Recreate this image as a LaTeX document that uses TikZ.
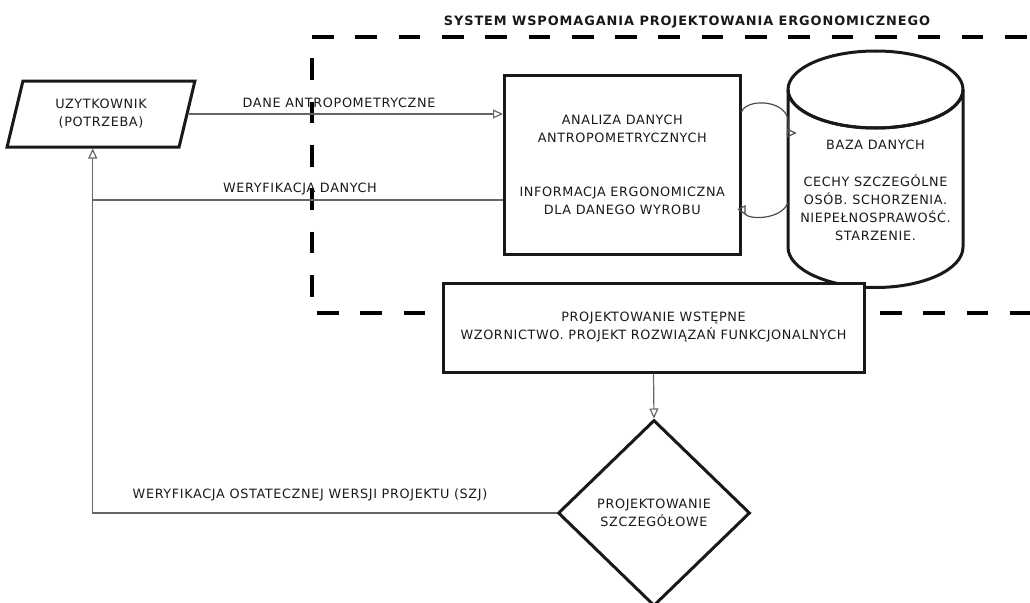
\documentclass[tikz,border=0pt]{standalone}
\usepackage{fontspec}
\setmainfont{DejaVu Sans}
\newfontfamily\dv[LetterSpace=5]{DejaVu Sans}
\newfontfamily\dvt[LetterSpace=7]{DejaVu Sans}
\usetikzlibrary{shapes.geometric,arrows.meta}
\begin{document}
\begin{tikzpicture}[x=1pt,y=-1pt,
  txt/.style={font=\dv\fontsize{12.8}{18}\selectfont, text=black!90, align=center},
  thickbox/.style={txt, draw=black!90, line width=3pt, fill=white, inner sep=0pt},
  conn/.style={draw=black!60, line width=1.2pt},
  openarrow/.style={-{Triangle[open,length=10pt,width=9pt]}},
  lbl/.style={txt, inner sep=0pt, anchor=base},
  bound/.style={draw=black, line width=4pt, dash pattern=on 21.7pt off 21.6pt}
]
\useasboundingbox (0,0) rectangle (1030,602);

% system boundary
\draw[bound] (312,37) -- (1040,37);
\draw[bound] (312,58.3) -- (312,313) -- (1040,313);
\node[lbl, font=\dvt\bfseries\fontsize{12.9}{14}\selectfont] (title) at (687,25.5) {SYSTEM WSPOMAGANIA PROJEKTOWANIA ERGONOMICZNEGO};

% user
\node[thickbox, trapezium, trapezium left angle=72.35, trapezium right angle=107.65,
      trapezium stretches=true, minimum width=188pt, minimum height=66pt,
      fill=white] (user) at (101,114)
      {\fontsize{12.8}{16}\selectfont UZYTKOWNIK\\(POTRZEBA)};

% analysis box
\node[thickbox, minimum width=235.5pt, minimum height=179pt] (box) at (622.25,164.5)
  {ANALIZA DANYCH\\ANTROPOMETRYCZNYCH\\[36pt]INFORMACJA ERGONOMICZNA\\DLA DANEGO WYROBU};

% database cylinder
\node[minimum width=175pt, minimum height=237pt, inner sep=0pt] (db) at (875.5,169.5) {};
\draw[line width=3pt, draw=black!90, fill=white]
  (788,89.5) -- (788,247) arc[start angle=180, end angle=360, x radius=87.5pt, y radius=40.5pt]
  -- (963,89.5) arc[start angle=0, end angle=-180, x radius=87.5pt, y radius=38.5pt];
\draw[line width=3pt, draw=black!90] (875.5,89.5) ellipse[x radius=87.5pt, y radius=38.5pt];
\node[txt, inner sep=0pt] (dbtext) at (875.5,190)
  {BAZA DANYCH\\[19pt]CECHY SZCZEGÓLNE\\OSÓB. SCHORZENIA.\\NIEPEŁNOSPRAWOŚĆ.\\STARZENIE.};

% preliminary design
\node[thickbox, minimum width=421pt, minimum height=89pt] (pre) at (653.5,327.5)
  {PROJEKTOWANIE WSTĘPNE\\WZORNICTWO. PROJEKT ROZWIĄZAŃ FUNKCJONALNYCH};

% detailed design
\node[thickbox, diamond, minimum width=192pt, minimum height=186pt, fill=none,
      font=\dv\fontsize{12.8}{17.4}\selectfont] (det) at (654,513)
  {PROJEKTOWANIE\\SZCZEGÓŁOWE};

% connectors
\coordinate (vy) at (0,200);
\draw[conn, openarrow] (user.east) -- (box.west |- user.east);
\node[lbl] (l1) at (339,107.5) {DANE ANTROPOMETRYCZNE};
\draw[conn] (box.west |- vy) -- (user.bottom side |- vy);
\node[lbl] (l2) at (300,192.5) {WERYFIKACJA DANYCH};
\draw[conn, openarrow] (det.west) -- (det.west -| user.bottom side) -- (user.bottom side);
\node[lbl] (l3) at (310,498.5) {WERYFIKACJA OSTATECZNEJ WERSJI PROJEKTU (SZJ)};
\draw[conn, openarrow] (pre.south) -- (det.north);

\draw[conn, draw=black!70, -{Triangle[open,length=10pt,width=9pt]}]
  ([yshift=52.5pt]box.east) .. controls (746,99) and (782,99) .. ([yshift=51.5pt]db.west)
  .. controls (788,130) and (790,133) .. ([xshift=9pt,yshift=36.5pt]db.west);
\draw[conn, draw=black!70, -{Triangle[open,reversed,length=9pt,width=9pt]}]
  ([yshift=-33.5pt]db.west) .. controls (781,220) and (748,220) .. ([yshift=-42.5pt]box.east);
\end{tikzpicture}
\end{document}
